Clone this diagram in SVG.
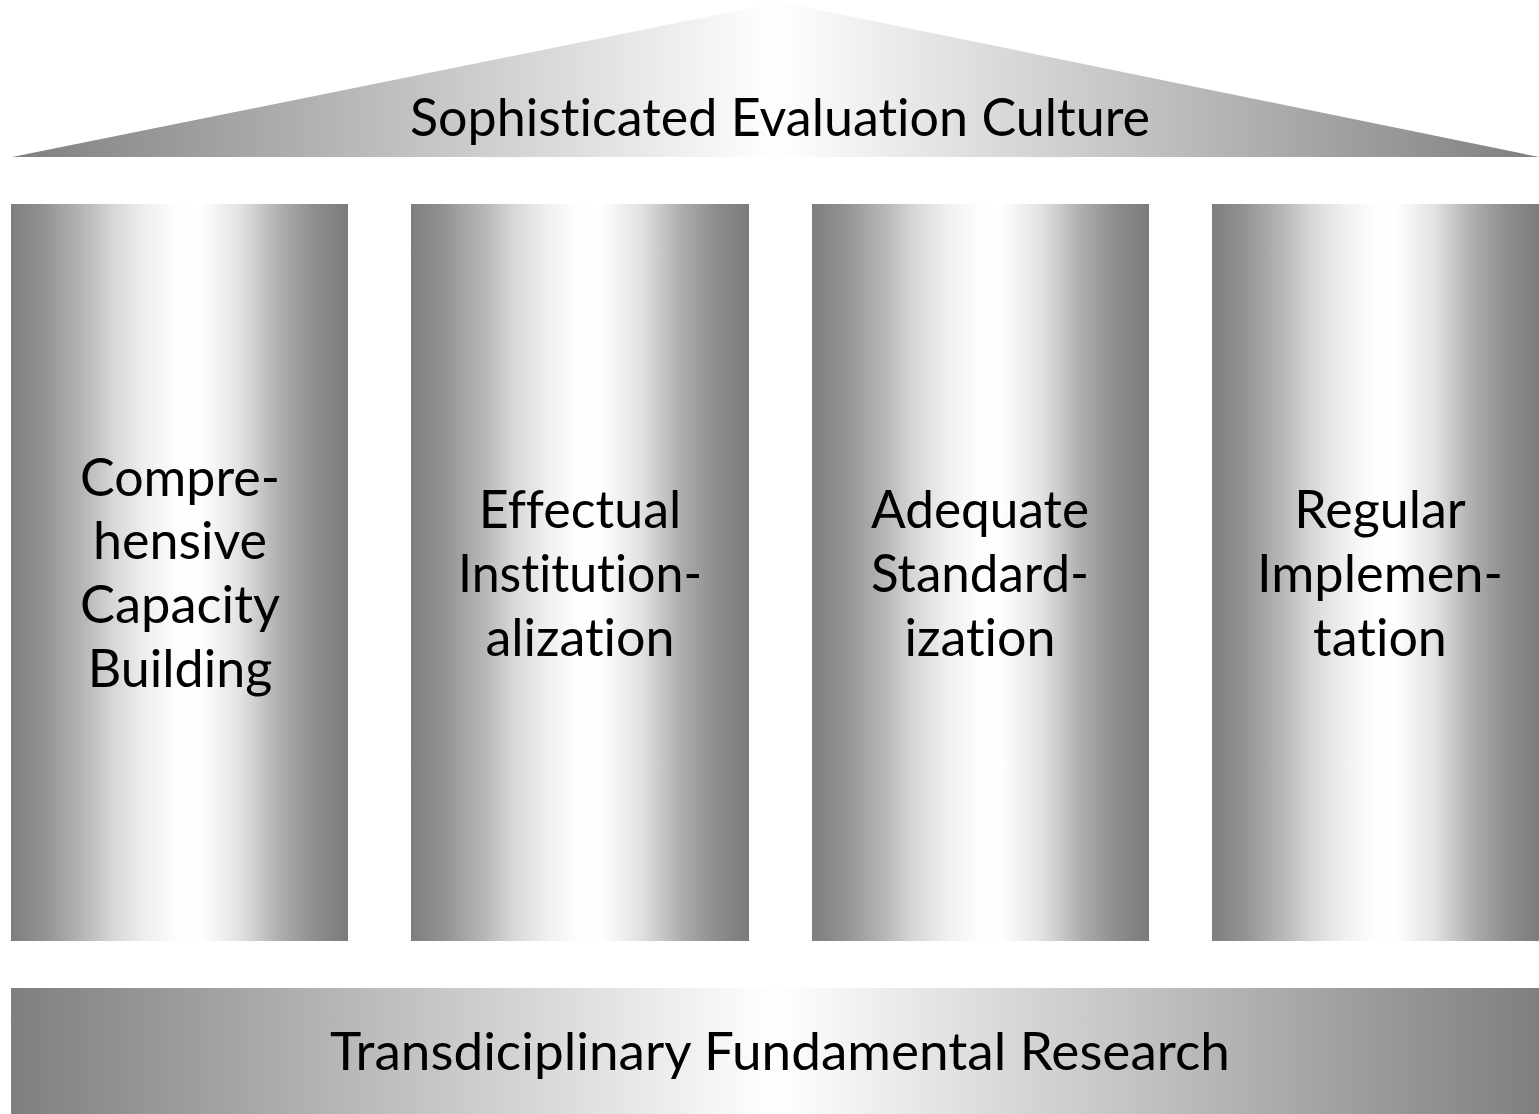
<svg xmlns="http://www.w3.org/2000/svg" width="1539" height="1114" viewBox="0 0 1539 1114">
  <defs>
    <linearGradient id="gPillar" x1="0" y1="0" x2="1" y2="0">
      <stop offset="0" stop-color="#7e7e7e"/>
      <stop offset="0.1" stop-color="#939393"/>
      <stop offset="0.22" stop-color="#b8b8b8"/>
      <stop offset="0.3" stop-color="#d6d6d6"/>
      <stop offset="0.4" stop-color="#efefef"/>
      <stop offset="0.5" stop-color="#fefefe"/>
      <stop offset="0.56" stop-color="#ffffff"/>
      <stop offset="0.68" stop-color="#e2e2e2"/>
      <stop offset="0.8" stop-color="#adadad"/>
      <stop offset="0.9" stop-color="#8e8e8e"/>
      <stop offset="1" stop-color="#7b7b7b"/>
    </linearGradient>
    <linearGradient id="gWide" x1="0" y1="0" x2="1" y2="0">
      <stop offset="0" stop-color="#7f7f7f"/>
      <stop offset="0.5" stop-color="#ffffff"/>
      <stop offset="1" stop-color="#7f7f7f"/>
    </linearGradient>
  </defs>
  <style>
    .lbl { font-family: Lato, "Liberation Sans", Arial, sans-serif; fill: #000; text-anchor: middle; font-variant-ligatures: none; font-feature-settings: "liga" 0, "clig" 0, "dlig" 0; }
    .pl { font-size: 52px; }
    .bn { font-size: 52px; }
  </style>

  <g id="roof">
    <polygon points="12,157 780,2 1539,157" fill="url(#gWide)"/>
    <text class="lbl bn" x="780" y="136" textLength="740" lengthAdjust="spacingAndGlyphs">Sophisticated Evaluation Culture</text>
  </g>

  <g id="pillar1">
    <rect x="11" y="204" width="337" height="737" fill="url(#gPillar)"/>
    <text class="lbl pl" x="180" y="496" textLength="200" lengthAdjust="spacingAndGlyphs">Compre-</text>
    <text class="lbl pl" x="180" y="559">hensive</text>
    <text class="lbl pl" x="180" y="623" textLength="200" lengthAdjust="spacingAndGlyphs">Capacity</text>
    <text class="lbl pl" x="180" y="687">Building</text>
  </g>

  <g id="pillar2">
    <rect x="411" y="204" width="338" height="737" fill="url(#gPillar)"/>
    <text class="lbl pl" x="580" y="528">Effectual</text>
    <text class="lbl pl" x="580" y="592" textLength="244" lengthAdjust="spacingAndGlyphs">Institution-</text>
    <text class="lbl pl" x="580" y="656">alization</text>
  </g>

  <g id="pillar3">
    <rect x="812" y="204" width="337" height="737" fill="url(#gPillar)"/>
    <text class="lbl pl" x="980" y="528" textLength="218" lengthAdjust="spacingAndGlyphs">Adequate</text>
    <text class="lbl pl" x="980" y="592" textLength="218" lengthAdjust="spacingAndGlyphs">Standard-</text>
    <text class="lbl pl" x="980" y="656">ization</text>
  </g>

  <g id="pillar4">
    <rect x="1212" y="204" width="327" height="737" fill="url(#gPillar)"/>
    <text class="lbl pl" x="1380" y="528">Regular</text>
    <text class="lbl pl" x="1380" y="592" textLength="246" lengthAdjust="spacingAndGlyphs">Implemen-</text>
    <text class="lbl pl" x="1380" y="656">tation</text>
  </g>

  <g id="base">
    <rect x="11" y="988" width="1528" height="126" fill="url(#gWide)"/>
    <text class="lbl bn" x="780" y="1070" textLength="900" lengthAdjust="spacingAndGlyphs">Transdiciplinary Fundamental Research</text>
  </g>

  <g id="connectors"/>
</svg>
